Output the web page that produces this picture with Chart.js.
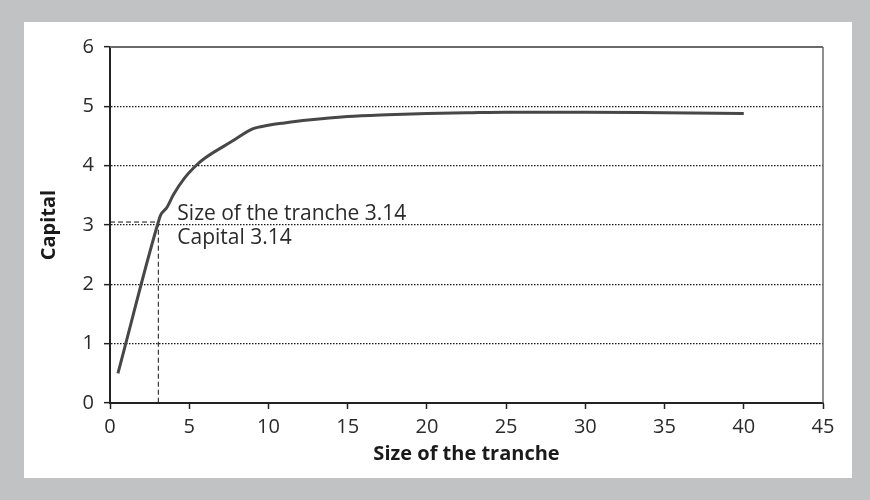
<!DOCTYPE html>
<html>
<head>
<meta charset="utf-8">
<script src="https://cdn.jsdelivr.net/npm/chart.js@4"></script>
<style>
  html, body { margin: 0; padding: 0; background: #c1c2c4; }
  canvas { display: block; }
</style>
</head>
<body>
<canvas id="c" width="870" height="500"></canvas>
<script>
// ---- Data ----
const trancheSize = [0.5, 3.05, 3.2, 3.6, 4.0, 4.7, 5.5, 6.0, 7.7, 9.0, 10.0, 11.0, 12.5, 15.0, 17.5, 20.0, 22.5, 25.0, 27.5, 30.0, 35.0, 40.0];
const capital     = [0.5, 3.05, 3.17, 3.30, 3.51, 3.79, 4.02, 4.13, 4.41, 4.62, 4.68, 4.72, 4.77, 4.83, 4.86, 4.88, 4.89, 4.90, 4.90, 4.90, 4.89, 4.88];
const markerX = [0, 3.05, 3.05];
const markerY = [3.05, 3.05, 0];
const annotationLines = ["Size of the tranche 3.14", "Capital 3.14"];
const xTitle = "Size of the tranche";
const yTitle = "Capital";

const FONT = "'Open Sans', 'DejaVu Sans', sans-serif";

const panelPlugin = {
  id: 'panel',
  beforeDraw(chart) {
    const ctx = chart.ctx;
    ctx.save();
    ctx.fillStyle = '#c1c2c4';
    ctx.fillRect(0, 0, chart.width, chart.height);
    ctx.fillStyle = '#ffffff';
    ctx.fillRect(24, 22, 828, 456);
    ctx.restore();
  },
  beforeDatasetsDraw(chart) {
    const {ctx, chartArea: a} = chart;
    ctx.save();
    ctx.strokeStyle = '#6a6a6a';
    ctx.lineWidth = 2;
    ctx.beginPath();
    ctx.moveTo(a.left, a.top);
    ctx.lineTo(a.right, a.top);
    ctx.stroke();
    ctx.lineWidth = 1.5;
    ctx.beginPath();
    ctx.moveTo(a.right, a.top);
    ctx.lineTo(a.right, a.bottom);
    ctx.stroke();
    ctx.restore();
  },
  afterDatasetsDraw(chart) {
    const ctx = chart.ctx;
    const xs = chart.scales.x, ys = chart.scales.y;
    const px = xs.getPixelForValue(markerX[1]);
    const py = ys.getPixelForValue(markerY[1]);
    ctx.save();
    ctx.fillStyle = '#2a2a2a';
    ctx.font = "21px " + FONT;
    ctx.textAlign = 'left';
    ctx.textBaseline = 'alphabetic';
    ctx.fillText(annotationLines[0], px + 19, py - 2);
    ctx.fillText(annotationLines[1], px + 19, py + 22);
    ctx.restore();
  }
};

new Chart(document.getElementById('c'), {
  type: 'scatter',
  data: {
    datasets: [
      {
        data: trancheSize.map((x, i) => ({x, y: capital[i]})),
        showLine: true,
        borderColor: '#474747',
        borderWidth: 3,
        pointRadius: 0,
        cubicInterpolationMode: 'monotone',
        fill: false
      },
      {
        data: markerX.map((x, i) => ({x, y: markerY[i]})),
        showLine: true,
        borderColor: '#111111',
        borderWidth: 1,
        borderDash: [5, 3],
        pointRadius: 0,
        tension: 0,
        fill: false
      }
    ]
  },
  options: {
    responsive: false,
    animation: false,
    devicePixelRatio: 1,
    layout: { padding: { left: 0, right: 47, top: 47, bottom: 0 } },
    plugins: { legend: { display: false }, tooltip: { enabled: false } },
    scales: {
      x: {
        type: 'linear',
        min: 0, max: 45,
        afterFit(s) { s.height = 97; },
        ticks: { stepSize: 5, color: '#2a2a2a', font: { family: FONT, size: 20 }, padding: 6, maxRotation: 0 },
        grid: { drawOnChartArea: false, drawTicks: true, tickLength: 6, tickColor: '#222', tickWidth: 1.5 },
        border: { display: true, color: '#222', width: 2 },
        title: { display: true, text: xTitle, color: '#1a1a1a', font: { family: FONT, size: 20, weight: 'bold' }, padding: { top: 0, bottom: 34 } }
      },
      y: {
        type: 'linear',
        min: 0, max: 6,
        afterFit(s) { s.width = 110; },
        ticks: { stepSize: 1, color: '#2a2a2a', font: { family: FONT, size: 20 }, padding: 10 },
        grid: {
          color: (c) => (c.tick && (c.tick.value === 0 || c.tick.value === 6)) ? 'rgba(0,0,0,0)' : '#1a1a1a',
          lineWidth: 1.3,
          drawTicks: true,
          tickLength: 6,
          tickColor: '#222',
          tickWidth: 1.5,
          tickBorderDash: []
        },
        border: { display: true, color: '#222', width: 2, dash: [1.5, 1.5] },
        title: { display: true, text: yTitle, color: '#1a1a1a', font: { family: FONT, size: 20, weight: 'bold' }, padding: { top: 37, bottom: 0 } }
      }
    }
  },
  plugins: [panelPlugin]
});
</script>
</body>
</html>
